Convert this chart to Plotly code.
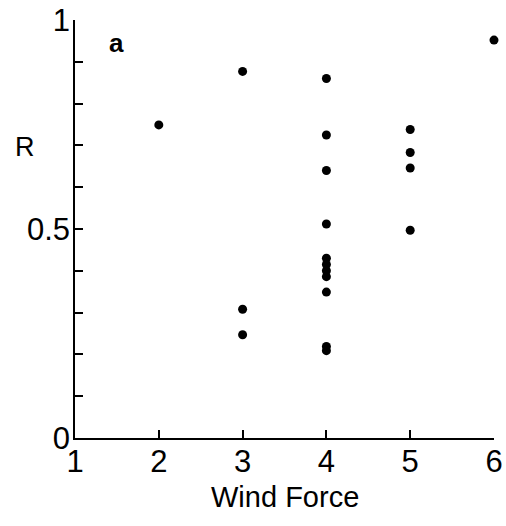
import plotly.graph_objects as go

# Wind force (Beaufort) and correlation coefficient R
wind_force = [2, 3, 3, 3, 4, 4, 4, 4, 4, 4, 4, 4, 4, 4, 4, 5, 5, 5, 5, 6]
r_values = [0.749, 0.877, 0.308, 0.247,
            0.860, 0.725, 0.640, 0.512, 0.430, 0.415, 0.400, 0.386,
            0.349, 0.219, 0.209,
            0.738, 0.683, 0.646, 0.497, 0.952]

x_ticks = [1, 2, 3, 4, 5, 6]
y_ticks = [0, 0.5, 1]
y_tick_text = ["0", "0.5", "1"]

FONT = "Liberation Sans"

fig = go.Figure(
    go.Scatter(
        x=wind_force,
        y=r_values,
        mode="markers",
        marker=dict(color="black", size=9),
        cliponaxis=False,
    )
)

fig.update_layout(
    width=506,
    height=526,
    margin=dict(l=75, r=12, t=20, b=88),
    paper_bgcolor="white",
    plot_bgcolor="white",
    showlegend=False,
    font=dict(family=FONT, color="black"),
)

fig.update_xaxes(
    range=[1, 6],
    tickvals=x_ticks,
    ticks="inside",
    ticklen=8,
    tickwidth=1.5,
    tickcolor="black",
    showline=True,
    linecolor="black",
    linewidth=1.5,
    showgrid=False,
    zeroline=False,
    automargin=False,
    tickfont=dict(size=31, family=FONT),
    ticklabelstandoff=-5,
)

fig.update_yaxes(
    range=[0, 1],
    tickvals=y_ticks,
    ticktext=y_tick_text,
    ticks="inside",
    ticklen=8,
    tickwidth=1.5,
    tickcolor="black",
    minor=dict(dtick=0.1, ticks="inside", ticklen=8, tickwidth=1.5, tickcolor="black"),
    showline=True,
    linecolor="black",
    linewidth=1.5,
    showgrid=False,
    zeroline=False,
    automargin=False,
    tickfont=dict(size=31, family=FONT),
    ticklabelstandoff=-3,
)

# Axis titles and panel letter
fig.add_annotation(text="Wind Force", xref="paper", yref="paper", x=0.5, y=-0.142,
                   showarrow=False, font=dict(size=29, family=FONT), yanchor="middle")
fig.add_annotation(text="R", xref="paper", yref="paper", x=-0.12, y=0.697,
                   showarrow=False, font=dict(size=27, family=FONT),
                   xanchor="center", yanchor="middle")
fig.add_annotation(text="a", xref="paper", yref="paper", x=0.10, y=0.946,
                   showarrow=False, font=dict(size=26, family=FONT, weight="bold"),
                   xanchor="center", yanchor="middle")

fig.write_html("out.html")
